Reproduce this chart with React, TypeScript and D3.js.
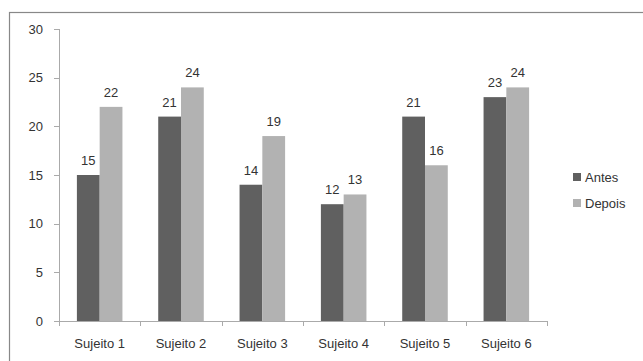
import { useMemo } from "react";
import * as d3 from "d3";

const WIDTH = 643;
const HEIGHT = 361;

const categories = ["Sujeito 1", "Sujeito 2", "Sujeito 3", "Sujeito 4", "Sujeito 5", "Sujeito 6"];
const seriesNames = ["Antes", "Depois"];
const antes = [15, 21, 14, 12, 21, 23];
const depois = [22, 24, 19, 13, 16, 24];
const yTicks = [0, 5, 10, 15, 20, 25, 30];

const colors = ["#606060", "#b2b2b2"];
const FONT = "'Liberation Sans', Arial, sans-serif";

const plot = { left: 59, right: 547, top: 29, bottom: 321 };

export default function App() {
  const x0 = useMemo(
    () =>
      d3.scaleBand<string>()
        .domain(categories)
        .range([plot.left, plot.right])
        .paddingInner(0.44)
        .paddingOuter(0.22),
    []
  );
  const x1 = useMemo(
    () => d3.scaleBand<string>().domain(seriesNames).range([0, x0.bandwidth()]),
    [x0]
  );
  const y = useMemo(
    () => d3.scaleLinear().domain([0, 30]).range([plot.bottom, plot.top]),
    []
  );

  const values = [antes, depois];
  const step = x0.step();

  return (
    <svg
      width={WIDTH}
      height={HEIGHT}
      style={{ position: "absolute", left: 0, top: 0, background: "#fff" }}
      fontFamily={FONT}
    >
      <rect x={9.5} y={12.5} width={700} height={400} fill="none" stroke="#888" strokeWidth={1.2} />

      {/* bars */}
      {categories.map((c, i) => (
        <g key={c} transform={`translate(${x0(c)},0)`}>
          {seriesNames.map((s, j) => {
            const v = values[j][i];
            const bx = x1(s)!;
            return (
              <g key={s}>
                <rect
                  x={bx}
                  y={y(v)}
                  width={x1.bandwidth()}
                  height={y(0) - y(v)}
                  fill={colors[j]}
                />
                <text
                  x={bx + x1.bandwidth() / 2}
                  y={y(v) - 10}
                  textAnchor="middle"
                  fontSize={13}
                  fill="#333"
                >
                  {v}
                </text>
              </g>
            );
          })}
        </g>
      ))}

      {/* y axis */}
      <line x1={plot.left + 0.5} x2={plot.left + 0.5} y1={plot.top} y2={plot.bottom} stroke="#aaa" />
      {yTicks.map((t) => (
        <g key={t}>
          <line x1={plot.left - 5} x2={plot.left} y1={Math.round(y(t)) + 0.5} y2={Math.round(y(t)) + 0.5} stroke="#aaa" />
          <text x={43} y={y(t)} dy="0.35em" textAnchor="end" fontSize={13} fill="#333">
            {t}
          </text>
        </g>
      ))}

      {/* x axis */}
      <line x1={plot.left} x2={plot.right} y1={plot.bottom + 0.5} y2={plot.bottom + 0.5} stroke="#aaa" />
      {d3.range(categories.length + 1).map((i) => {
        const tx = Math.round(plot.left + i * step) + 0.5;
        return <line key={i} x1={tx} x2={tx} y1={plot.bottom} y2={plot.bottom + 5} stroke="#aaa" />;
      })}
      {categories.map((c) => (
        <text
          key={c}
          x={x0(c)! + x0.bandwidth() / 2}
          y={343}
          dy="0.35em"
          textAnchor="middle"
          fontSize={13}
          fill="#333"
        >
          {c}
        </text>
      ))}

      {/* legend */}
      {seriesNames.map((s, j) => (
        <g key={s} transform={`translate(573,${177 + j * 26})`}>
          <rect x={0} y={-4} width={8} height={8} fill={colors[j]} />
          <text x={12} y={0} dy="0.35em" fontSize={13} fill="#333">
            {s}
          </text>
        </g>
      ))}
    </svg>
  );
}
